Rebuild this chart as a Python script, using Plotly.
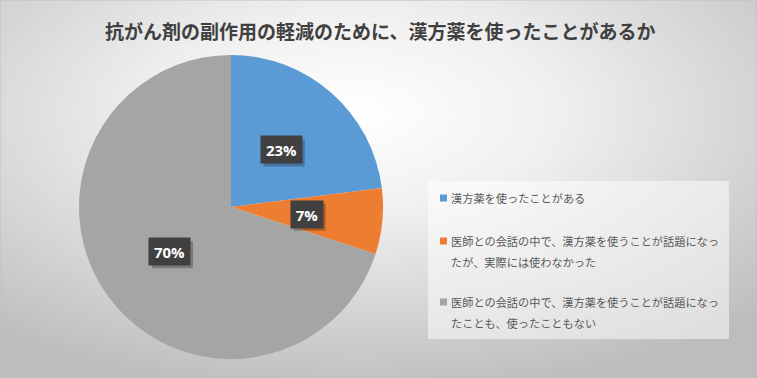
import math
import base64
import plotly.graph_objects as go

# ---- data ----
title_text = "抗がん剤の副作用の軽減のために、漢方薬を使ったことがあるか"
categories = [
    "漢方薬を使ったことがある",
    "医師との会話の中で、漢方薬を使うことが話題になったが、実際には使わなかった",
    "医師との会話の中で、漢方薬を使うことが話題になったことも、使ったこともない",
]
values = [23, 7, 70]
colors = ["#5B9BD5", "#ED7D31", "#A5A5A5"]

W, H = 757, 378
cx, cy, R = 231, 207, 152  # pie centre / radius in px (top-left origin)

def wrap_lines(s, n=24):
    return [s[i:i + n] for i in range(0, len(s), n)]

fig = go.Figure()
fig.add_trace(go.Pie(
    labels=categories,
    values=values,
    sort=False,
    direction="clockwise",
    rotation=0,
    marker=dict(colors=colors, line=dict(width=0)),
    textinfo="none",
    hoverinfo="label+percent",
    showlegend=False,
    domain=dict(x=[(cx - R) / W, (cx + R) / W], y=[(H - cy - R) / H, (H - cy + R) / H]),
))

# background radial gradient
svg = f'''<svg xmlns="http://www.w3.org/2000/svg" width="{W}" height="{H}">
<defs><radialGradient id="g" cx="0.47" cy="0.3" r="0.75" gradientUnits="objectBoundingBox">
<stop offset="0" stop-color="#ffffff"/><stop offset="0.35" stop-color="#f0f0f0"/><stop offset="1" stop-color="#bdbdbd"/>
</radialGradient></defs><rect width="{W}" height="{H}" fill="url(#g)"/></svg>'''
src = "data:image/svg+xml;base64," + base64.b64encode(svg.encode()).decode()

annotations = []
shapes = []
total = sum(values)
cum = 0
for v in values:
    mid = (cum + v / 2) / total * 2 * math.pi
    cum += v
    px = cx + 0.5 * R * math.sin(mid)
    py = cy - 0.5 * R * math.cos(mid)
    label = f"{round(v / total * 100)}%"
    bw, bh = 14 + 9 * len(label), 27
    # drop shadow of the label box
    shapes.append(dict(type="rect", xref="paper", yref="paper",
                       x0=(px - bw / 2 + 3) / W, x1=(px + bw / 2 + 3) / W,
                       y0=1 - (py + bh / 2 + 3) / H, y1=1 - (py - bh / 2 + 3) / H,
                       fillcolor="rgba(0,0,0,0.25)", line=dict(width=0), layer="above"))
    annotations.append(dict(
        x=px / W, y=1 - py / H, xref="paper", yref="paper", showarrow=False,
        xanchor="center", yanchor="middle",
        text=f"<b>{label}</b>", font=dict(family="Open Sans, Arial", size=15, color="#ffffff"),
        bgcolor="#404040", borderpad=0, width=bw, height=bh, align="center", valign="middle",
    ))

# title
annotations.append(dict(
    x=380 / W, y=1 - 31 / H, xref="paper", yref="paper", showarrow=False,
    text=f"<b>{title_text}</b>",
    font=dict(family="Noto Sans CJK JP", size=19, color="#404040"),
    xanchor="center", yanchor="middle",
))

# custom legend
shapes.append(dict(type="rect", xref="paper", yref="paper",
                   x0=428 / W, x1=729 / W, y0=1 - 339 / H, y1=1 - 181 / H,
                   fillcolor="rgba(255,255,255,0.5)", line=dict(width=0), layer="below"))
legend_y = [198, 241, 302]
line_gap = 21
for cat, col, ly in zip(categories, colors, legend_y):
    shapes.append(dict(type="rect", xref="paper", yref="paper",
                       x0=440 / W, x1=447 / W, y0=1 - (ly + 3.5) / H, y1=1 - (ly - 3.5) / H,
                       fillcolor=col, line=dict(width=0)))
    for k, line in enumerate(wrap_lines(cat)):
        annotations.append(dict(
            x=449 / W, y=1 - (ly + k * line_gap) / H, xref="paper", yref="paper", showarrow=False,
            text=line, align="left", xanchor="left", yanchor="middle",
            font=dict(family="Noto Sans CJK JP", size=11.2, color="#595959"),
        ))

shapes.append(dict(type="rect", xref="paper", yref="paper", x0=0, x1=1, y0=0, y1=1,
                   line=dict(color="#bfbfbf", width=1), fillcolor="rgba(0,0,0,0)"))

fig.update_layout(
    width=W, height=H,
    margin=dict(l=0, r=0, t=0, b=0),
    paper_bgcolor="#d9d9d9",
    images=[dict(source=src, xref="paper", yref="paper", x=0, y=1, sizex=1, sizey=1,
                 sizing="stretch", xanchor="left", yanchor="top", layer="below")],
    annotations=annotations,
    shapes=shapes,
)

fig.write_html("out.html", config={"displayModeBar": False},
               post_script="document.body.style.margin='0';document.body.style.overflow='hidden';")
